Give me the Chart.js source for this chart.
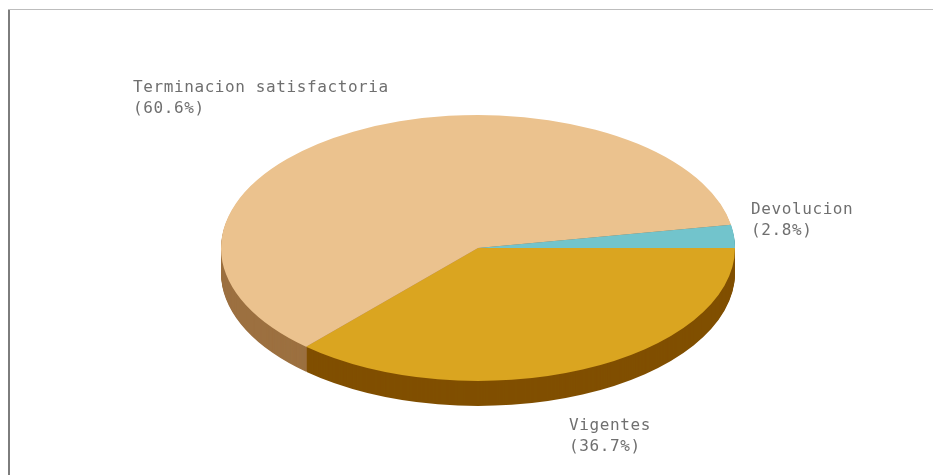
<!DOCTYPE html>
<html>
<head>
<meta charset="utf-8">
<style>
html,body{margin:0;padding:0;background:#fff;width:933px;height:475px;overflow:hidden}
#wrap{position:relative;width:933px;height:475px;filter:blur(0.4px)}
canvas{position:absolute;left:0;top:0;display:block}
#fl{position:absolute;left:8px;top:9px;width:2px;height:466px;background:#7d7d7d}
#ft{position:absolute;left:8px;top:9px;width:925px;height:1px;background:#bdbdbd}
</style>
<script src="https://cdn.jsdelivr.net/npm/chart.js@4/dist/chart.umd.min.js"></script>
</head>
<body>
<div id="wrap">
<canvas id="c" width="933" height="475"></canvas>
<div id="fl"></div><div id="ft"></div>
</div>
<script>
const categories = ['Vigentes', 'Terminacion satisfactoria', 'Devolucion'];
const percentages = [36.7, 60.6, 2.8];
const topColors = ['#DAA520', '#EBC28E', '#72C4CC'];
const sideColors = ['#804F00', '#9C7040', '#3F8A92'];
const labelAnchors = [[569, 430], [133, 92], [751, 214]];

const squash = 133 / 257;
const depth = 25;

const tiltPlugin = {
  id: 'tilt',
  beforeDatasetDraw(chart, args) {
    const ctx = chart.ctx;
    const arcs = args.meta.data;
    const cx = arcs[0].x, cy = arcs[0].y;
    ctx.save();
    for (let d = depth; d >= 1; d--) {
      ctx.save();
      ctx.translate(cx, cy + d);
      ctx.scale(1, squash);
      ctx.translate(-cx, -cy);
      arcs.forEach((arc, i) => {
        const saved = arc.options;
        arc.options = Object.assign({}, saved, {backgroundColor: sideColors[i]});
        arc.draw(ctx);
        arc.options = saved;
      });
      ctx.restore();
    }
    ctx.translate(cx, cy);
    ctx.scale(1, squash);
    ctx.translate(-cx, -cy);
  },
  afterDatasetDraw(chart) {
    chart.ctx.restore();
  },
  afterDraw(chart) {
    const ctx = chart.ctx;
    ctx.save();
    ctx.font = '16px "DejaVu Sans Mono", monospace';
    ctx.letterSpacing = '0.6px';
    ctx.fillStyle = '#6f6f6f';
    ctx.textAlign = 'left';
    ctx.textBaseline = 'alphabetic';
    categories.forEach((name, i) => {
      const [x, y] = labelAnchors[i];
      ctx.fillText(name, x, y);
      ctx.fillText('(' + percentages[i].toFixed(1) + '%)', x, y + 21);
    });
    ctx.restore();
  }
};

new Chart(document.getElementById('c'), {
  type: 'pie',
  data: {
    labels: categories,
    datasets: [{
      data: percentages,
      backgroundColor: topColors,
      borderWidth: 0,
      radius: 257,
      rotation: 90,
      clip: false
    }]
  },
  options: {
    responsive: false,
    animation: false,
    layout: {padding: {left: 23, top: 21, right: 0, bottom: 0}},
    plugins: {legend: {display: false}, tooltip: {enabled: false}}
  },
  plugins: [tiltPlugin]
});
</script>
</body>
</html>
